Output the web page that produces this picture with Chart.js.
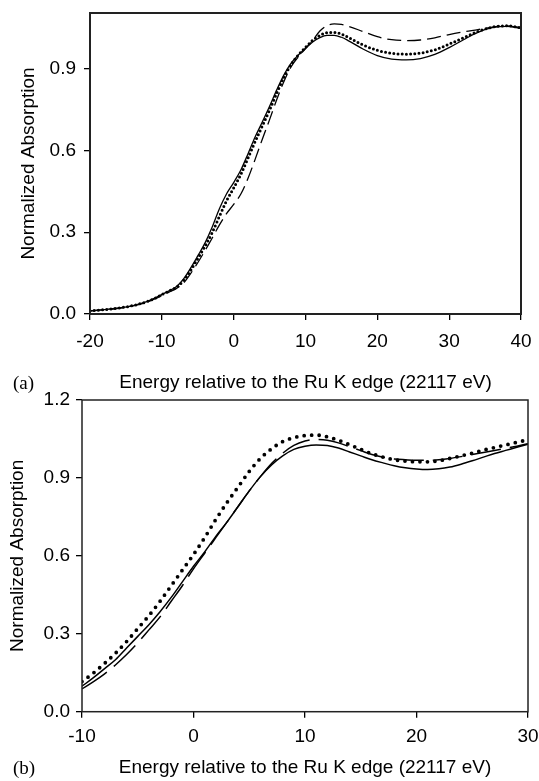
<!DOCTYPE html>
<html>
<head>
<meta charset="utf-8">
<script src="https://cdn.jsdelivr.net/npm/chart.js@4.4.1/dist/chart.umd.min.js"></script>
<style>
  body { margin: 0; background: #fff; width: 539px; height: 781px; position: relative; overflow: hidden; }
  canvas { position: absolute; left: 0; }
  #chartA { top: 0; }
  #chartB { top: 385px; }
  .panel { position: absolute; font: 19px "Liberation Serif", "Times New Roman", serif; color: #000; line-height: 22px; }
</style>
</head>
<body>
<canvas id="chartA" width="539" height="400"></canvas>
<canvas id="chartB" width="539" height="396"></canvas>
<div class="panel" style="left:13px; top:372px;">(a)</div>
<div class="panel" style="left:13px; top:757px;">(b)</div>
<script>
// panel (a): energy grid and the three spectra
const energyA = [-20, -18, -16, -14, -12, -11, -10, -9, -8, -7, -6, -5, -4, -3, -2, -1,
  0, 1, 2, 3, 4, 5, 6, 7, 8, 9, 10, 11, 12, 13, 14, 15, 16,
  18, 20, 22, 24, 26, 28, 30, 32, 34, 36, 38, 40];
const solidA = [0.012, 0.016, 0.022, 0.031, 0.046, 0.058, 0.072, 0.085, 0.100, 0.128, 0.168, 0.213, 0.260, 0.318, 0.385, 0.440,
  0.482, 0.528, 0.588, 0.650, 0.705, 0.762, 0.822, 0.877, 0.920, 0.950, 0.975, 0.998, 1.014, 1.022, 1.022, 1.015, 1.002,
  0.972, 0.948, 0.935, 0.932, 0.937, 0.952, 0.977, 1.006, 1.033, 1.050, 1.055, 1.048];
const dottedA = [0.012, 0.016, 0.022, 0.031, 0.046, 0.057, 0.071, 0.084, 0.098, 0.122, 0.160, 0.203, 0.248, 0.298, 0.357, 0.415,
  0.462, 0.512, 0.572, 0.633, 0.690, 0.748, 0.810, 0.868, 0.915, 0.950, 0.978, 1.004, 1.022, 1.032, 1.033, 1.027, 1.014,
  0.987, 0.967, 0.956, 0.953, 0.957, 0.969, 0.990, 1.013, 1.036, 1.052, 1.057, 1.050];
const dashedA = [0.011, 0.015, 0.021, 0.030, 0.044, 0.055, 0.068, 0.080, 0.093, 0.113, 0.148, 0.188, 0.232, 0.278, 0.326, 0.368,
  0.402, 0.440, 0.498, 0.568, 0.642, 0.713, 0.787, 0.853, 0.907, 0.943, 0.973, 1.003, 1.038, 1.058, 1.064, 1.062, 1.055,
  1.036, 1.017, 1.006, 1.003, 1.005, 1.013, 1.025, 1.035, 1.043, 1.052, 1.057, 1.050];

// panel (b)
const energyB = [-10, -9, -8, -7, -6, -5, -4, -3, -2, -1, 0, 1, 2, 3, 4, 5, 6, 7, 8, 9, 10,
  11, 12, 13, 14, 15, 16, 17, 18, 19, 20, 21, 22, 23, 24, 25, 26, 27, 28, 29, 30];
const solidB = [0.098, 0.130, 0.165, 0.200, 0.245, 0.290, 0.335, 0.385, 0.440, 0.500, 0.560, 0.615, 0.675, 0.730, 0.790, 0.850, 0.905, 0.950, 0.985, 1.010, 1.022,
  1.027, 1.025, 1.015, 1.000, 0.985, 0.970, 0.958, 0.947, 0.939, 0.934, 0.932, 0.935, 0.942, 0.953, 0.966, 0.980, 0.994, 1.006, 1.018, 1.030];
const dottedB = [0.116, 0.148, 0.185, 0.225, 0.270, 0.320, 0.370, 0.425, 0.485, 0.545, 0.605, 0.670, 0.740, 0.805, 0.865, 0.925, 0.975, 1.012, 1.040, 1.055, 1.063,
  1.065, 1.058, 1.045, 1.028, 1.010, 0.993, 0.980, 0.970, 0.965, 0.962, 0.962, 0.966, 0.975, 0.985, 0.995, 1.007, 1.017, 1.027, 1.037, 1.047];
const dashedB = [0.088, 0.115, 0.145, 0.180, 0.220, 0.265, 0.315, 0.365, 0.425, 0.485, 0.550, 0.610, 0.670, 0.730, 0.790, 0.850, 0.905, 0.955, 0.995, 1.025, 1.042,
  1.048, 1.045, 1.035, 1.020, 1.005, 0.990, 0.980, 0.973, 0.970, 0.968, 0.968, 0.970, 0.975, 0.982, 0.990, 0.998, 1.006, 1.014, 1.022, 1.032];

const xTitle = "Energy relative to the Ru K edge (22117 eV)";
const yTitle = "Normalized Absorption";
const font = { family: "'Liberation Sans', Arial, sans-serif", size: 19 };

function pts(xs, ys) {
  return xs.map((x, i) => ({ x: x, y: ys[i] }));
}

// box round the plot area
const frame = {
  id: 'frame',
  afterDraw(chart, args, opts) {
    const { ctx, chartArea: a } = chart;
    ctx.save();
    ctx.strokeStyle = '#222';
    ctx.lineWidth = opts.width;
    ctx.strokeRect(a.left, a.top, a.right - a.left, a.bottom - a.top);
    ctx.restore();
  }
};

function makeChart(id, cfg) {
  const ctx = document.getElementById(id).getContext('2d');
  return new Chart(ctx, {
    type: 'line',
    data: {
      datasets: [
        { data: pts(cfg.x, cfg.solid), borderColor: '#000', borderWidth: cfg.solidW },
        { data: pts(cfg.x, cfg.dotted), borderColor: '#000', borderWidth: cfg.dotW, borderDash: cfg.dotDash, borderCapStyle: 'round' },
        { data: pts(cfg.x, cfg.dashed), borderColor: '#000', borderWidth: cfg.solidW, borderDash: cfg.dashDash }
      ]
    },
    options: {
      responsive: false,
      animation: false,
      layout: { autoPadding: false, padding: { top: cfg.padTop, right: cfg.padRight, bottom: 0, left: 0 } },
      elements: { point: { radius: 0 }, line: { cubicInterpolationMode: 'monotone', fill: false } },
      plugins: { legend: { display: false }, tooltip: { enabled: false }, frame: { width: cfg.frameW } },
      scales: {
        x: {
          type: 'linear', min: cfg.xMin, max: cfg.xMax,
          afterFit: s => { s.height = cfg.xAxisH; s.paddingLeft = 0; s.paddingRight = 0; },
          border: { display: false },
          grid: { drawOnChartArea: false, drawTicks: true, tickLength: 6, color: '#000', lineWidth: 1.3 },
          ticks: { stepSize: 10, padding: cfg.xTickPad, maxRotation: 0, autoSkip: false, color: '#000', font: font, callback: v => String(v) },
          title: { display: true, text: xTitle, color: '#000', font: font, padding: { top: 0, bottom: cfg.xTitlePad } }
        },
        y: {
          min: 0, max: cfg.yMax,
          afterFit: s => { s.width = cfg.yAxisW; s.paddingTop = 0; s.paddingBottom = 0; },
          border: { display: false },
          grid: { drawOnChartArea: false, drawTicks: true, tickLength: 6, color: '#000', lineWidth: 1.3 },
          ticks: { stepSize: 0.3, includeBounds: false, padding: cfg.yTickPad, color: '#000', font: font, callback: v => v.toFixed(1) },
          title: { display: true, text: yTitle, color: '#000', font: font, padding: { top: cfg.yTitlePad, bottom: 0 } }
        }
      }
    },
    plugins: [frame]
  });
}

makeChart('chartA', {
  x: energyA, solid: solidA, dotted: dottedA, dashed: dashedA,
  xMin: -20, xMax: 40, yMax: 1.104,
  solidW: 1.3, dotW: 3, dotDash: [0, 4.2], dashDash: [14, 6],
  padTop: 13, padRight: 18, xAxisH: 86, yAxisW: 90,
  xTickPad: 10.5, yTickPad: 8, xTitlePad: 5.6, yTitlePad: 17.6, frameW: 2
});

makeChart('chartB', {
  x: energyB, solid: solidB, dotted: dottedB, dashed: dashedB,
  xMin: -10, xMax: 30, yMax: 1.2,
  solidW: 1.5, dotW: 3.8, dotDash: [0, 7.5], dashDash: [30, 9],
  padTop: 15, padRight: 11, xAxisH: 69.3, yAxisW: 82,
  xTickPad: 7.6, yTickPad: 6, xTitlePad: 1.6, yTitlePad: 6.6, frameW: 1.5
});
</script>
</body>
</html>
